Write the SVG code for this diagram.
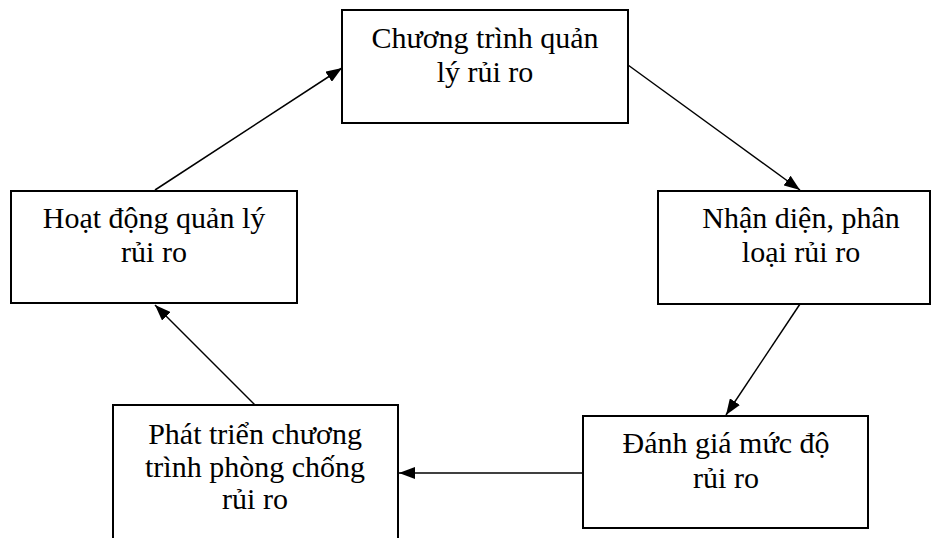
<svg xmlns="http://www.w3.org/2000/svg" width="932" height="538" viewBox="0 0 932 538">
<style>
.box{fill:#fff;stroke:#000;stroke-width:2}
.t{font-family:"Liberation Serif","Times New Roman",serif;font-size:30px;fill:#000;text-anchor:middle}
.c{stroke:#000;stroke-width:1.5;fill:none;marker-end:url(#ah)}
</style>
<defs>
<marker id="ah" markerUnits="userSpaceOnUse" markerWidth="16" markerHeight="12" refX="16" refY="6" orient="auto">
<path d="M0,0 L16,6 L0,12 Z" fill="#000"/>
</marker>
</defs>
<rect width="932" height="538" fill="#fff"/>
<g id="n1">
<rect class="box" x="342" y="10" width="286" height="113"/>
<text class="t" x="485" y="48">Chương trình quản</text>
<text class="t" x="485" y="82">lý rủi ro</text>
</g>
<g id="n2">
<rect class="box" x="658" y="191" width="272" height="113"/>
<text class="t" x="801" y="228">Nhận diện, phân</text>
<text class="t" x="801" y="262">loại rủi ro</text>
</g>
<g id="n3">
<rect class="box" x="583" y="416" width="285" height="112"/>
<text class="t" x="726" y="453">Đánh giá mức độ</text>
<text class="t" x="726" y="488">rủi ro</text>
</g>
<g id="n4">
<rect class="box" x="113" y="405" width="285" height="140"/>
<text class="t" x="255" y="444">Phát triển chương</text>
<text class="t" x="255" y="477">trình phòng chống</text>
<text class="t" x="255" y="509">rủi ro</text>
</g>
<g id="n5">
<rect class="box" x="11" y="191" width="286" height="112"/>
<text class="t" x="154" y="228">Hoạt động quản lý</text>
<text class="t" x="154" y="262">rủi ro</text>
</g>
<g id="connectors">
<line class="c" x1="155" y1="190" x2="342" y2="68"/>
<line class="c" x1="628" y1="65" x2="800" y2="190"/>
<line class="c" x1="800" y1="304" x2="726" y2="415"/>
<line class="c" x1="583" y1="473" x2="399" y2="473"/>
<line class="c" x1="255" y1="405" x2="155" y2="305"/>
</g>
</svg>
